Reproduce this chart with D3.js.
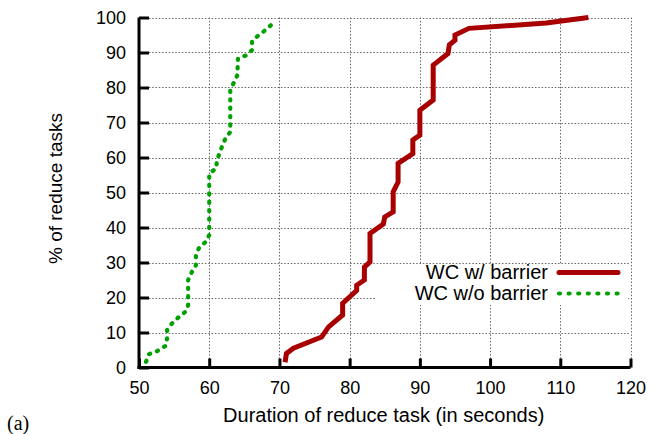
<!DOCTYPE html>
<html>
<head>
<meta charset="utf-8">
<script src="https://cdn.jsdelivr.net/npm/d3@7"></script>
<style>
  html, body { margin: 0; padding: 0; background: #fff; }
  svg { display: block; font-family: "Liberation Sans", Arial, Helvetica, sans-serif; }
</style>
</head>
<body>
<svg id="chart" width="652" height="434"></svg>
<script>
// CDF of reduce-task durations, with and without the barrier
const xTicks = [50, 60, 70, 80, 90, 100, 110, 120];
const yTicks = [0, 10, 20, 30, 40, 50, 60, 70, 80, 90, 100];

const barrierSeconds = [70.8, 71, 72, 76, 77, 79, 79, 81, 81, 82.1, 82.1, 82.9, 82.9, 84.8, 85, 86.2, 86.2,
  86.9, 86.9, 89, 89, 90, 90, 91.9, 91.9, 94, 94.2, 95, 95, 97, 108, 114];
const barrierPct = [1.5, 4, 5.5, 8.7, 11.6, 15, 18.3, 22, 23.5, 25, 28.7, 30.2, 38.3, 41, 43, 44.5, 50.2,
  53, 58.3, 61.1, 65, 66.4, 73.5, 76.4, 86.4, 89.7, 92.2, 93.5, 95, 96.9, 98.4, 100];

const noBarrierSeconds = [51, 51.4, 52.6, 53.8, 54, 54, 54.7, 55.7, 56.6, 57, 57, 57.6, 58.1, 58.1, 58.5, 59.5,
  60, 60, 60, 61, 61.1, 61.8, 62.3, 63, 63, 64, 64.1, 65.3, 66.1, 66.1, 67, 68, 68.9];
const noBarrierPct = [1.6, 3.8, 4.7, 6.2, 8.3, 10.7, 12.6, 14.5, 15.9, 17.8, 25, 27.6, 29.2, 31.8, 34, 35.9,
  37.8, 53.5, 55.4, 56.9, 59.2, 63, 65.4, 67.3, 79.2, 83.5, 88.3, 89.2, 90.7, 93.2, 94.9, 96.4, 98];

const seriesNames = ["WC w/ barrier", "WC w/o barrier"];
const seriesColors = ["#a80000", "#00a000"];

const svg = d3.select("#chart");
const x = d3.scaleLinear().domain([50, 120]).range([139, 630.5]);
const y = d3.scaleLinear().domain([0, 100]).range([367.5, 17.5]);

// dotted grid, the top and right edges included
const grid = svg.append("g").attr("stroke", "#666").attr("stroke-width", 1)
  .attr("stroke-dasharray", "1.5,1.8").attr("fill", "none");
grid.selectAll("line.v").data(xTicks.slice(1)).join("line").attr("class", "v")
  .attr("x1", d => Math.round(x(d)) + 0.5).attr("x2", d => Math.round(x(d)) + 0.5)
  .attr("y1", y(100)).attr("y2", y(0));
grid.selectAll("line.h").data(yTicks.slice(1)).join("line").attr("class", "h")
  .attr("y1", d => Math.round(y(d)) + 0.5).attr("y2", d => Math.round(y(d)) + 0.5)
  .attr("x1", x(50)).attr("x2", x(120));

// axes
const fontSize = 18;
const yAxis = svg.append("g").attr("transform", `translate(${x(50)},0)`)
  .call(d3.axisLeft(y).tickValues(yTicks).tickSizeInner(-10).tickSizeOuter(0).tickPadding(13));
const xAxis = svg.append("g").attr("transform", `translate(0,${y(0)})`)
  .call(d3.axisBottom(x).tickValues(xTicks).tickSizeInner(-9).tickSizeOuter(0).tickPadding(14));
[xAxis, yAxis].forEach(a => {
  a.select(".domain").attr("stroke", "#000").attr("stroke-width", 3);
  a.selectAll(".tick line").attr("stroke", "#000").attr("stroke-width", 3);
  a.selectAll(".tick text").attr("fill", "#000").attr("font-size", fontSize)
    .attr("font-family", "'Liberation Sans', Arial, Helvetica, sans-serif");
});
yAxis.select(".domain").attr("d", `M0,${y(0) + 1.5}V${y(100)}`);
xAxis.select(".domain").attr("d", `M${x(50) - 1.5},0H${x(120)}`);

// axis titles
svg.append("text").attr("x", (x(50) + x(120)) / 2 - 1).attr("y", 422)
  .attr("text-anchor", "middle").attr("font-size", 20)
  .text("Duration of reduce task (in seconds)");
svg.append("text").attr("transform", `translate(62,${(y(0) + y(100)) / 2 - 4}) rotate(-90)`)
  .attr("text-anchor", "middle").attr("font-size", 19)
  .text("% of reduce tasks");
svg.append("text").attr("x", 7).attr("y", 430)
  .attr("font-family", "'Liberation Serif', 'Times New Roman', serif").attr("font-size", 20)
  .text("(a)");

// legend box hides the grid behind it
const lg = svg.append("g");
lg.append("rect").attr("x", 376).attr("y", 264).attr("width", 252).attr("height", 41).attr("fill", "#fff");

// series
const line = d3.line().x(d => x(d[0])).y(d => y(d[1]));
const barrier = d3.zip(barrierSeconds, barrierPct);
const noBarrier = d3.zip(noBarrierSeconds, noBarrierPct);

svg.append("path").datum(barrier).attr("d", line)
  .attr("fill", "none").attr("stroke", seriesColors[0]).attr("stroke-width", 5)
  .attr("stroke-linejoin", "miter").attr("stroke-linecap", "butt");
svg.append("path").datum(noBarrier).attr("d", line)
  .attr("fill", "none").attr("stroke", seriesColors[1]).attr("stroke-width", 4.2)
  .attr("stroke-dasharray", "1.2,7.2").attr("stroke-linecap", "round");

// legend entries
const legendRows = [
  { name: seriesNames[0], color: seriesColors[0], dotted: false, yPos: 272.5 },
  { name: seriesNames[1], color: seriesColors[1], dotted: true, yPos: 293.5 }
];
legendRows.forEach(r => {
  lg.append("text").attr("x", 548).attr("y", r.yPos + 6.5).attr("text-anchor", "end")
    .attr("font-size", 20).text(r.name);
  const s = lg.append("line").attr("x1", 559).attr("x2", 618).attr("y1", r.yPos).attr("y2", r.yPos)
    .attr("stroke", r.color);
  if (r.dotted) s.attr("stroke-width", 4.2).attr("stroke-dasharray", "1,8.6").attr("stroke-linecap", "round");
  else s.attr("stroke-width", 5).attr("stroke-linecap", "round");
});
</script>
</body>
</html>
